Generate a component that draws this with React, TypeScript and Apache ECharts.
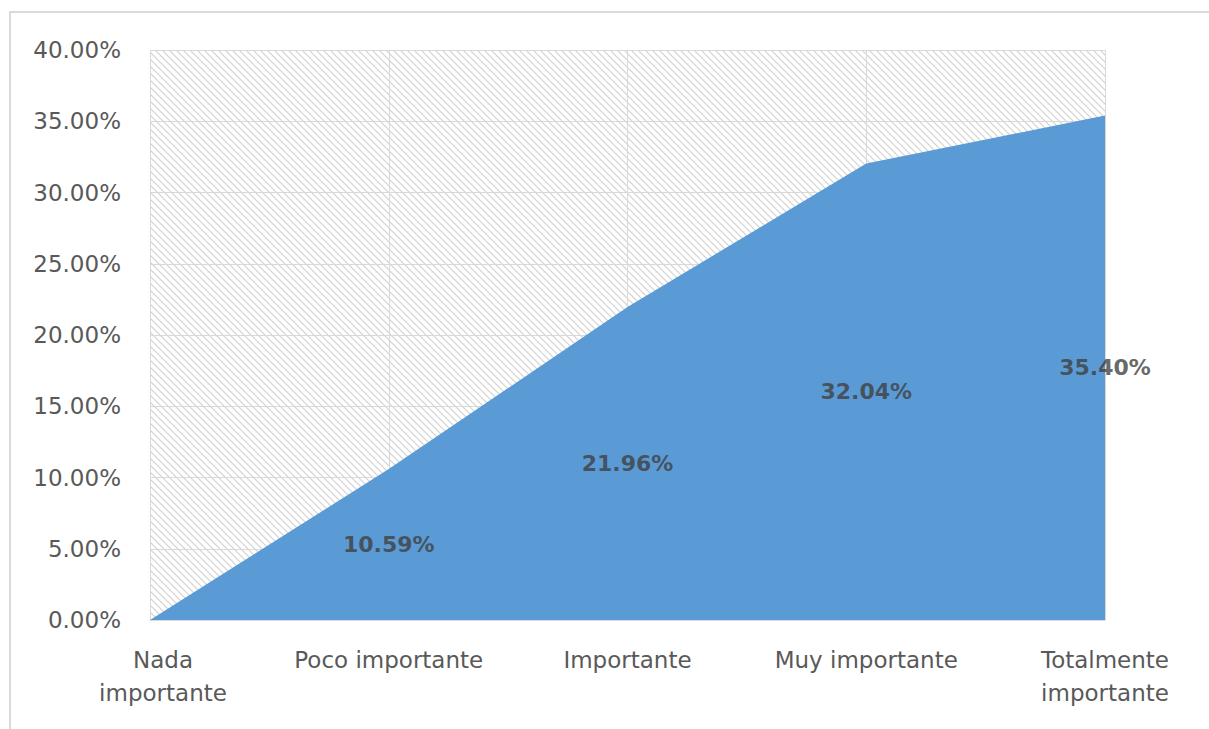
import React, { useEffect, useRef } from "react";
import * as echarts from "echarts";

const categories = ["Nada\nimportante", "Poco importante", "Importante", "Muy importante", "Totalmente\nimportante"];
const values = [0, 10.59, 21.96, 32.04, 35.4];
const yTicks = { min: 0, max: 40, interval: 5 };

function makeHatch(): string {
  const size = 7;
  const c = document.createElement("canvas");
  c.width = size;
  c.height = size;
  const ctx = c.getContext("2d")!;
  ctx.fillStyle = "#ffffff";
  ctx.fillRect(0, 0, size, size);
  ctx.strokeStyle = "#d2d2d2";
  ctx.lineWidth = 1.2;
  ctx.beginPath();
  ctx.moveTo(-1, -1);
  ctx.lineTo(size + 1, size + 1);
  ctx.moveTo(-1, size - 1);
  ctx.lineTo(1, size + 1);
  ctx.moveTo(size - 1, -1);
  ctx.lineTo(size + 1, 1);
  ctx.stroke();
  return c.toDataURL();
}

export default function App() {
  const ref = useRef<HTMLDivElement>(null);
  useEffect(() => {
    document.body.style.margin = "0";
    const chart = echarts.init(ref.current!, undefined, { renderer: "svg" });
    const font = "'DejaVu Sans', sans-serif";
    chart.setOption({
      animation: false,
      backgroundColor: "#ffffff",
      textStyle: { fontFamily: font },
      grid: {
        left: 150,
        right: 104,
        top: 50,
        bottom: 109,
        show: true,
        borderWidth: 0,
        backgroundColor: { image: makeHatch(), repeat: "repeat" } as any,
      },
      graphic: [
        {
          type: "rect",
          shape: { x: 10, y: 12, width: 1300, height: 800 },
          style: { fill: "none", stroke: "#d9d9d9", lineWidth: 2 },
          silent: true,
          z: 100,
        },
      ],
      xAxis: {
        type: "category",
        data: categories.map((c, i) =>
          i === 0 ? { value: c, textStyle: { padding: [0, 0, 0, 26] } } : c
        ),
        boundaryGap: false,
        axisLine: { show: true, lineStyle: { color: "#d9d9d9", width: 1 } },
        axisTick: { show: false },
        splitLine: { show: true, lineStyle: { color: "#d9d9d9", width: 1 } },
        axisLabel: {
          color: "#595959",
          fontSize: 23,
          fontFamily: font,
          margin: 23,
          lineHeight: 33,
          interval: 0,
        },
      },
      yAxis: {
        type: "value",
        min: yTicks.min,
        max: yTicks.max,
        interval: yTicks.interval,
        axisLine: { show: false },
        axisTick: { show: false },
        splitLine: { show: true, lineStyle: { color: "#d9d9d9", width: 1 } },
        axisLabel: {
          color: "#595959",
          fontSize: 23,
          fontFamily: font,
          margin: 29,
          formatter: (v: number) => v.toFixed(2) + "%",
        },
      },
      series: [
        {
          type: "line",
          data: values,
          symbol: "none",
          lineStyle: { width: 0 },
          areaStyle: { color: "#5b9bd5", opacity: 1 },
          z: 2,
        },
        {
          type: "scatter",
          symbolSize: 0,
          data: values.map((v, i) => ({ value: [i, v / 2], raw: v })),
          z: 5,
          label: {
            show: true,
            position: "inside",
            fontSize: 22,
            fontWeight: "bold",
            fontFamily: font,
            color: "#404040",
            formatter: (p: any) => (p.data.raw === 0 ? "" : p.data.raw.toFixed(2) + "%"),
          },
        },
      ],
    });
    return () => chart.dispose();
  }, []);
  return <div ref={ref} style={{ width: 1209, height: 729 }} />;
}
